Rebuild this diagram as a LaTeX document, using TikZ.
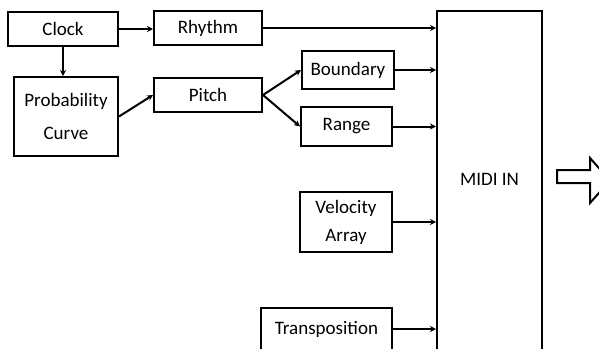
\documentclass[tikz,border=0pt]{standalone}
\usepackage{fontspec}
\setmainfont{Carlito}
\usetikzlibrary{arrows.meta}
\begin{document}
\begin{tikzpicture}[x=1pt,y=-1pt,
  box/.style={draw,line width=2pt,inner sep=0pt,align=center,font=\fontsize{19}{22}\selectfont},
  conn/.style={line width=2pt,-{Stealth[length=6pt,width=6pt]}},
  every node/.style={font=\fontsize{19}{22}\selectfont}]
\useasboundingbox (0,0) rectangle (599,348);
\clip (0,0) rectangle (599,348);
\node[box,minimum width=110,minimum height=34] (clock) at (63,29) {Clock};
\node[box,minimum width=108,minimum height=34] (rhythm) at (208,28) {Rhythm};
\node[box,minimum width=104,minimum height=79] (prob) at (66,116.5) {Probability\\[11pt]Curve};
\node[box,minimum width=108,minimum height=34] (pitch) at (208,95) {Pitch};
\node[box,minimum width=92,minimum height=38] (boundary) at (348,70) {Boundary};
\node[box,minimum width=91,minimum height=39] (range) at (346.5,126.5) {Range};
\node[box,minimum width=92,minimum height=60] (velocity) at (346,222) {Velocity\\[6pt]Array};
\node[box,minimum width=131,minimum height=42] (transp) at (326.5,329) {Transposition};
\node[box,minimum width=105,minimum height=359] (midi) at (489.5,190.5) {};
\node (miditext) at (489.5,179) {MIDI IN};
\draw[conn] (clock.east) -- (clock.east -| rhythm.west);
\draw[conn] (clock.south) -- (clock.south |- prob.north);
\draw[conn] (prob.east) -- (pitch.west);
\draw[conn] (pitch.east) -- (boundary.west);
\draw[conn] (pitch.east) -- (range.west);
\draw[conn] (rhythm.east) -- (rhythm.east -| midi.west);
\draw[conn] (boundary.east) -- (boundary.east -| midi.west);
\draw[conn] (range.east) -- (range.east -| midi.west);
\draw[conn] (velocity.east) -- (velocity.east -| midi.west);
\draw[conn] (transp.east) -- (transp.east -| midi.west);
\draw[line width=2pt,line join=miter] (557,170) -- (590,170) -- (590,158) -- (610,180.5) -- (590,203) -- (590,183) -- (557,183) -- cycle;
\end{tikzpicture}
\end{document}
